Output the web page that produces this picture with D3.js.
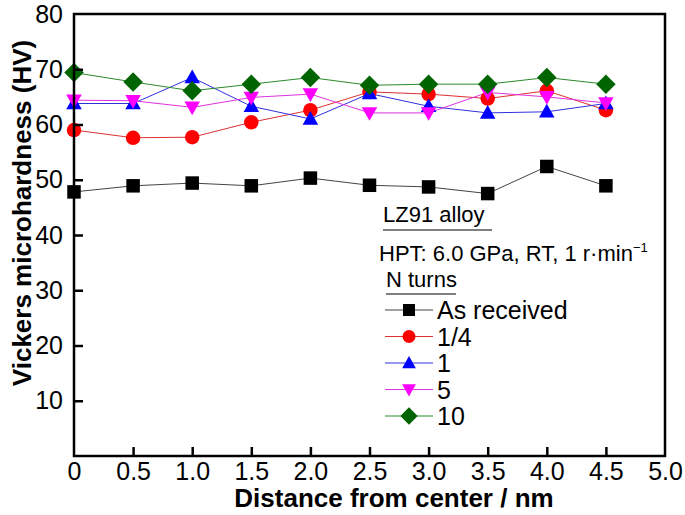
<!DOCTYPE html>
<html><head><meta charset="utf-8">
<script src="https://cdn.jsdelivr.net/npm/d3@7"></script>
<style>body{margin:0;background:#fff}svg{display:block;font-family:"Liberation Sans",Arial,sans-serif}</style>
</head><body><svg id="c" width="685" height="515"></svg>
<script>
const distances = [0, 0.5, 1.0, 1.5, 2.0, 2.5, 3.0, 3.5, 4.0, 4.5];
const asReceived = [47.8, 48.9, 49.4, 48.9, 50.3, 49.0, 48.7, 47.5, 52.4, 48.9];
const quarterTurn = [59.0, 57.6, 57.7, 60.4, 62.6, 65.9, 65.5, 64.7, 66.1, 62.6];
const oneTurn = [63.8, 63.8, 68.5, 63.3, 61.0, 65.6, 63.3, 62.1, 62.3, 63.8];
const fiveTurns = [64.4, 64.3, 63.1, 64.9, 65.5, 62.1, 62.1, 65.8, 65.0, 63.9];
const tenTurns = [69.4, 67.7, 66.1, 67.3, 68.5, 67.1, 67.3, 67.3, 68.5, 67.3];
const seriesNames = ["As received", "1/4", "1", "5", "10"];
const xTickValues = [0, 0.5, 1.0, 1.5, 2.0, 2.5, 3.0, 3.5, 4.0, 4.5, 5.0];
const xTickLabels = ["0", "0.5", "1.0", "1.5", "2.0", "2.5", "3.0", "3.5", "4.0", "4.5", "5.0"];
const yTickValues = [10, 20, 30, 40, 50, 60, 70, 80];

const series = [
  {name: seriesNames[0], values: asReceived, color: "#000000", line: "#444", shape: "square"},
  {name: seriesNames[1], values: quarterTurn, color: "#ff0000", line: "#e03030", shape: "circle"},
  {name: seriesNames[2], values: oneTurn, color: "#0000ff", line: "#3030e0", shape: "up"},
  {name: seriesNames[3], values: fiveTurns, color: "#ff00ff", line: "#e030e0", shape: "down"},
  {name: seriesNames[4], values: tenTurns, color: "#006400", line: "#2a8a2a", shape: "diamond"}
];

const svg = d3.select("#c");
const L = 74, R = 665, T = 14, B = 456;
const x = d3.scaleLinear().domain([0, 5]).range([L, R]);
const y = d3.scaleLinear().domain([0, 80]).range([B, T]);

function marker(g, shape, cx, cy, s, color) {
  let p;
  if (shape === "square") p = g.append("rect").attr("x", cx - s/2).attr("y", cy - s/2).attr("width", s).attr("height", s);
  else if (shape === "circle") p = g.append("circle").attr("cx", cx).attr("cy", cy).attr("r", s/2 + 0.5);
  else if (shape === "up") { const h = s*0.95, w = s*1.15; p = g.append("path").attr("d", `M${cx},${cy-h*0.62}L${cx+w/2},${cy+h*0.45}L${cx-w/2},${cy+h*0.45}Z`); }
  else if (shape === "down") { const h = s*0.95, w = s*1.15; p = g.append("path").attr("d", `M${cx},${cy+h*0.62}L${cx+w/2},${cy-h*0.45}L${cx-w/2},${cy-h*0.45}Z`); }
  else if (shape === "diamond") { const d = s*0.72; p = g.append("path").attr("d", `M${cx},${cy-d}L${cx+d},${cy}L${cx},${cy+d}L${cx-d},${cy}Z`); }
  p.attr("fill", color);
}

const line = d3.line().x((d, i) => x(distances[i])).y(d => y(d));
const plot = svg.append("g");
series.forEach(s => {
  plot.append("path").datum(s.values).attr("d", line).attr("fill", "none").attr("stroke", s.line).attr("stroke-width", 1);
});
series.forEach(s => {
  const g = plot.append("g");
  s.values.forEach((v, i) => marker(g, s.shape, x(distances[i]), y(v), 13.5, s.color));
});

// frame
svg.append("rect").attr("x", L).attr("y", T).attr("width", R - L).attr("height", B - T)
  .attr("fill", "none").attr("stroke", "#000").attr("stroke-width", 2.5);

// axes with inward ticks
const xAxis = d3.axisBottom(x).tickValues(xTickValues).tickFormat((d, i) => xTickLabels[i]).tickSizeInner(-9).tickSizeOuter(0).tickPadding(6);
const gx = svg.append("g").attr("transform", `translate(0,${B})`).call(xAxis);
gx.select(".domain").remove();
gx.selectAll("line").attr("stroke", "#000").attr("stroke-width", 2.5);
gx.selectAll("text").attr("font-size", 25).attr("fill", "#000").attr("font-family", "Liberation Sans, Arial, sans-serif");
gx.selectAll(".tick").filter(d => d === 0 || d === 5).select("line").remove();

const yAxis = d3.axisLeft(y).tickValues(yTickValues).tickSizeInner(-9).tickSizeOuter(0).tickPadding(11);
const gy = svg.append("g").attr("transform", `translate(${L},0)`).call(yAxis);
gy.select(".domain").remove();
gy.selectAll("line").attr("stroke", "#000").attr("stroke-width", 2.5);
gy.selectAll("text").attr("font-size", 25).attr("fill", "#000").attr("font-family", "Liberation Sans, Arial, sans-serif");
gy.selectAll(".tick").filter(d => d === 80).select("line").remove();

// axis titles
svg.append("text").attr("x", 394).attr("y", 507).attr("text-anchor", "middle")
  .attr("font-size", 26).attr("font-weight", "bold").text("Distance from center / nm");
svg.append("text").attr("transform", "translate(31,213) rotate(-90)").attr("text-anchor", "middle")
  .attr("font-size", 26).attr("font-weight", "bold").text("Vickers microhardness (HV)");

// legend
const lg = svg.append("g");
lg.append("text").attr("x", 383).attr("y", 222).attr("font-size", 22).text("LZ91 alloy");
lg.append("line").attr("x1", 383).attr("x2", 492).attr("y1", 230).attr("y2", 230).attr("stroke", "#000").attr("stroke-width", 1.2);
const hpt = lg.append("text").attr("x", 379).attr("y", 261).attr("font-size", 22);
hpt.append("tspan").text("HPT: 6.0 GPa, RT, 1 r·min");
hpt.append("tspan").attr("font-size", 13).attr("dy", -9).text("−1");
lg.append("text").attr("x", 386).attr("y", 287).attr("font-size", 22).text("N turns");
lg.append("line").attr("x1", 386).attr("x2", 456).attr("y1", 294).attr("y2", 294).attr("stroke", "#000").attr("stroke-width", 1.2);
series.forEach((s, i) => {
  const cy = 310 + i * 26.5;
  lg.append("line").attr("x1", 385).attr("x2", 433).attr("y1", cy).attr("y2", cy).attr("stroke", s.line).attr("stroke-width", 1);
  marker(lg, s.shape, 409, cy, 12, s.color);
  lg.append("text").attr("x", 437).attr("y", cy + 9).attr("font-size", 25).text(s.name);
});
</script></body></html>
